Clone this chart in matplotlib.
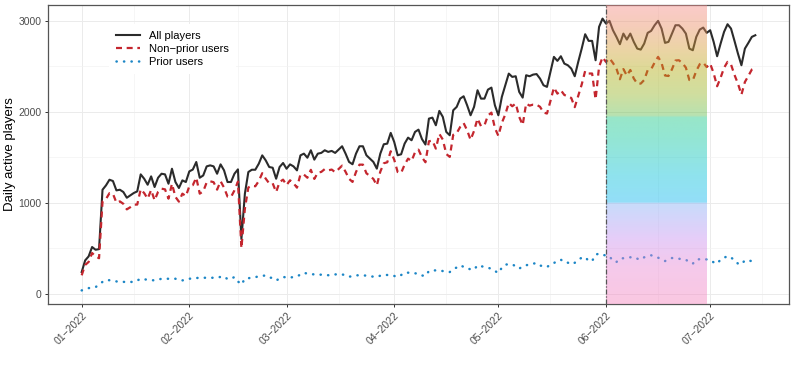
import numpy as np
import pandas as pd
import matplotlib
matplotlib.use("Agg")
import matplotlib.pyplot as plt

# daily active players, one value per day from 2022-01-01
all_jan = [238, 366, 410, 513, 483, 490, 1143, 1191, 1253, 1239, 1136, 1143, 1118, 1055, 1081, 1107,
           1125, 1312, 1264, 1198, 1290, 1173, 1275, 1319, 1312, 1209, 1374, 1228, 1162, 1246, 1228]
all_feb = [1345, 1365, 1448, 1275, 1300, 1400, 1411, 1400, 1319, 1422, 1356, 1228, 1228, 1319,
           1367, 600, 1099, 1338, 1363, 1363, 1429, 1521, 1466, 1393, 1385, 1264, 1393, 1437]
all_mar = [1374, 1422, 1400, 1356, 1521, 1540, 1495, 1577, 1474, 1540, 1548, 1577, 1559, 1570, 1548, 1584,
           1621, 1540, 1449, 1423, 1540, 1621, 1621, 1522, 1485, 1449, 1375, 1540, 1643, 1650, 1768]
all_apr = [1669, 1522, 1533, 1650, 1716, 1687, 1779, 1804, 1700, 1640, 1925, 1936, 1852, 2010, 1944,
           1779, 1742, 2017, 2054, 2145, 2171, 2072, 1962, 2054, 2237, 2145, 2145, 2244, 2266, 2072]
all_may = [1962, 2164, 2292, 2420, 2384, 2391, 2219, 2156, 2402, 2391, 2409, 2415, 2365, 2292, 2274, 2439,
           2604, 2560, 2611, 2530, 2512, 2475, 2391, 2549, 2695, 2853, 2780, 2780, 2567, 2934, 3025]
all_jun = [2970, 3000, 2897, 2824, 2743, 2860, 2794, 2860, 2769, 2695, 2684, 2750, 2868, 2890, 2952,
           3000, 2915, 2758, 2769, 2860, 2952, 2952, 2915, 2860, 2695, 2677, 2824, 2904, 2926, 2868]
all_jul = [2897, 2769, 2611, 2750, 2879, 2963, 2915, 2780, 2640, 2512, 2695, 2758, 2824, 2842]

prior_jan = [36, 50, 61, 66, 72, 100, 130, 150, 148, 140, 135, 128, 130, 128, 130, 128,
             145, 164, 158, 153, 150, 146, 155, 164, 165, 164, 166, 164, 150, 146, 155]
prior_feb = [164, 172, 172, 175, 175, 176, 175, 174, 175, 185, 190, 160, 165, 183,
             135, 100, 164, 170, 175, 182, 190, 196, 201, 180, 171, 146, 165, 183]
prior_mar = [180, 175, 185, 190, 210, 230, 220, 215, 212, 209, 209, 207, 203, 205, 212, 213,
             213, 200, 186, 194, 202, 202, 202, 198, 191, 187, 184, 198, 209, 205, 202]
prior_apr = [195, 184, 205, 231, 231, 228, 224, 220, 200, 195, 249, 253, 257, 253, 249,
             243, 238, 270, 288, 312, 295, 275, 270, 264, 312, 303, 293, 284, 275, 250]
prior_may = [227, 286, 320, 323, 323, 300, 275, 301, 312, 323, 330, 337, 310, 300, 293, 320,
             337, 360, 374, 345, 341, 323, 340, 374, 395, 403, 359, 359, 430, 440, 425]
prior_jun = [422, 411, 360, 348, 385, 390, 396, 400, 403, 385, 374, 400, 411, 422, 410,
             396, 378, 359, 375, 392, 388, 385, 380, 374, 345, 330, 374, 380, 385, 376]
prior_jul = [367, 345, 330, 375, 395, 414, 395, 374, 330, 323, 367, 363, 359, 360]

month_ticks = ["2022-01-01", "2022-02-01", "2022-03-01", "2022-04-01",
               "2022-05-01", "2022-06-01", "2022-07-01"]
month_labels = ["01\u22122022", "02\u22122022", "03\u22122022", "04\u22122022",
                "05\u22122022", "06\u22122022", "07\u22122022"]
minor_ticks = ["2022-01-16", "2022-02-15", "2022-03-16", "2022-04-16",
               "2022-05-16", "2022-06-16", "2022-07-16"]
highlight_start = "2022-06-01"
highlight_end = "2022-06-30"

# rainbow band (value on y axis, colour)
band_stops = [(-200, "#f883b8"), (300, "#e987d4"), (600, "#c890f0"), (900, "#94a8f6"),
              (995, "#85b1f6"), (1005, "#0db6f0"), (1300, "#06c1d9"), (1700, "#0fc79f"),
              (1940, "#18c785"), (1960, "#61be4f"), (2200, "#97b628"), (2450, "#b1ad13"),
              (2700, "#d69f39"), (2950, "#eb8e65"), (3300, "#fa899b")]


def main():
    all_players = np.array(all_jan + all_feb + all_mar + all_apr + all_may + all_jun + all_jul)
    prior_users = np.array(prior_jan + prior_feb + prior_mar + prior_apr + prior_may + prior_jun + prior_jul)
    non_prior = all_players - prior_users
    dates = pd.date_range("2022-01-01", periods=len(all_players), freq="D")

    plt.rcParams["font.family"] = ["Liberation Sans", "DejaVu Sans"]
    fig = plt.figure(figsize=(7.93, 3.66), dpi=100)
    ax = fig.add_axes([48 / 793, 1 - 304 / 366, 741 / 793, 299 / 366])

    ax.plot(dates, all_players, color="#2b2b2b", lw=1.5, label="All players", zorder=3)
    ax.plot(dates, non_prior, color="#c4262e", lw=1.6, ls=(0, (2.7, 2.1)),
            label="Non\u2212prior users", zorder=3)
    ax.plot(dates, prior_users, color="#1c86c6", lw=1.8, ls=(0, (0.1, 2.9)),
            dash_capstyle="round", label="Prior users", zorder=3)

    # axis limits like ggplot's 5% expansion
    span = dates[-1] - dates[0]
    ax.set_xlim(dates[0] - span * 0.05, dates[-1] + span * 0.05)
    ylo = min(prior_users.min(), non_prior.min())
    yhi = all_players.max()
    ax.set_ylim(ylo - (yhi - ylo) * 0.05, yhi + (yhi - ylo) * 0.05)

    # gradient band over june, drawn on top of the lines
    ymin, ymax = ax.get_ylim()
    yy = np.linspace(ymin, ymax, 600)
    pos = [s[0] for s in band_stops]
    rgb = np.array([matplotlib.colors.to_rgb(s[1]) for s in band_stops])
    img = np.zeros((len(yy), 1, 3))
    for c in range(3):
        img[:, 0, c] = np.interp(yy, pos, rgb[:, c])
    x0 = matplotlib.dates.date2num(pd.Timestamp(highlight_start))
    x1 = matplotlib.dates.date2num(pd.Timestamp(highlight_end))
    ax.imshow(img, extent=[x0, x1, ymin, ymax], origin="lower", aspect="auto",
              alpha=0.45, zorder=4, interpolation="bilinear")
    ax.axvline(pd.Timestamp(highlight_start), color="#555555", lw=0.9,
               ls=(0, (4, 1.5, 1, 1.5)), zorder=5)

    ax.set_xticks(pd.to_datetime(month_ticks))
    ax.set_xticklabels(month_labels, rotation=45, ha="right", rotation_mode="anchor")
    ax.set_xticks(pd.to_datetime(minor_ticks), minor=True)
    ax.set_yticks([0, 1000, 2000, 3000])
    ax.set_yticks([500, 1500, 2500], minor=True)
    ax.tick_params(axis="both", which="major", length=2.5, width=0.7, color="#333333",
                   labelsize=7.5, labelcolor="#4d4d4d", pad=2)
    ax.tick_params(axis="both", which="minor", length=0)
    ax.grid(which="major", color="#ebebeb", lw=0.7, zorder=0)
    ax.grid(which="minor", color="#f2f2f2", lw=0.45, zorder=0)
    ax.set_axisbelow(True)
    for sp in ax.spines.values():
        sp.set_color("#555555")
        sp.set_linewidth(0.9)

    ax.set_ylabel("Daily active players", fontsize=9.5, color="black")
    ax.yaxis.set_label_coords(-0.043, 0.5)

    leg = ax.legend(loc="upper left", bbox_to_anchor=(0.075, 0.955), fontsize=8,
                    frameon=True, fancybox=False, framealpha=1, edgecolor="white",
                    handlelength=2.2, labelspacing=0.3, borderpad=0.6)
    leg.get_frame().set_linewidth(0)
    leg.set_zorder(6)

    fig.savefig("out.png", dpi=100)


if __name__ == '__main__':
    main()
